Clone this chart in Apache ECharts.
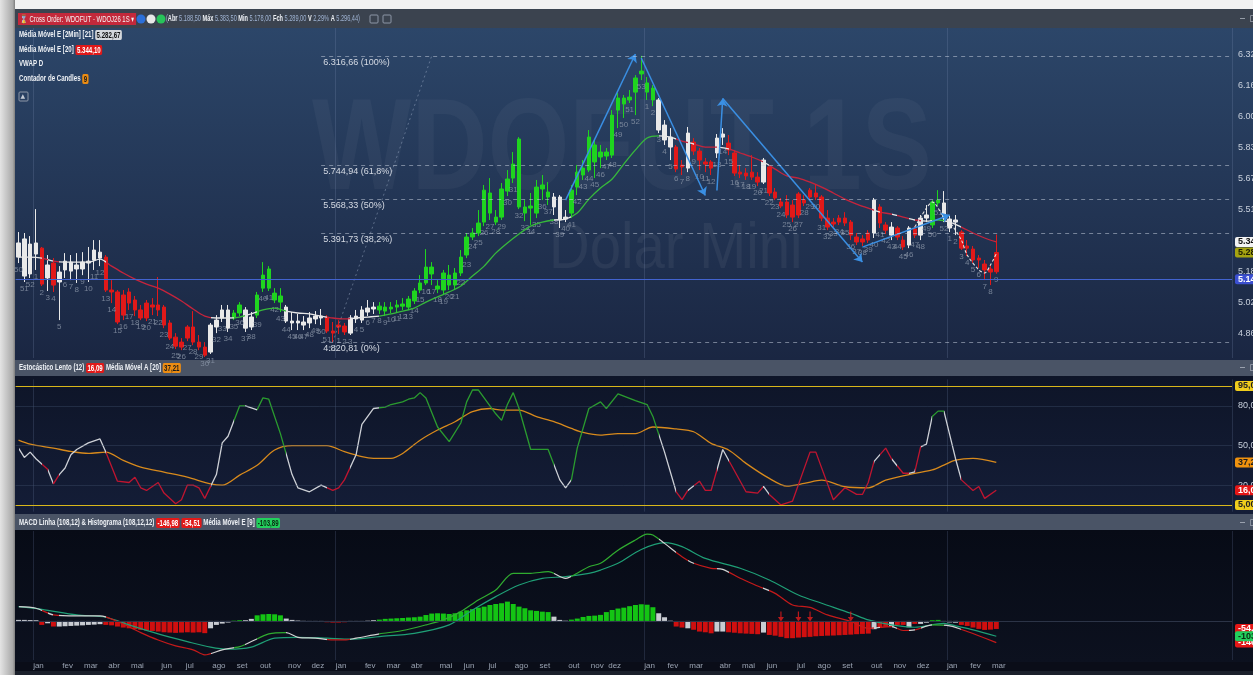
<!DOCTYPE html>
<html>
<head>
<meta charset="utf-8">
<script src="https://cdn.jsdelivr.net/npm/echarts@6/dist/echarts.min.js"></script>
<style>
html, body { margin: 0; padding: 0; background: #eeeeee; }
#chart { width: 1253px; height: 675px; }
</style>
</head>
<body>
<div id="chart"></div>
<script>
// ---- data (weekly candles, WDOFUT) ----
var firstWeeks = [50, 51, 52];
var weeksPerYear = [52, 53, 52, 9];
var monthNames = ['jan','fev','mar','abr','mai','jun','jul','ago','set','out','nov','dez',
                  'jan','fev','mar','abr','mai','jun','jul','ago','set','out','nov','dez',
                  'jan','fev','mar','abr','mai','jun','jul','ago','set','out','nov','dez',
                  'jan','fev','mar'];
var monthStarts = [3, 8, 12, 16, 20, 25, 29, 34, 38, 42, 47, 51,
                   55, 60, 64, 68, 73, 77, 81, 86, 90, 95, 99, 102,
                   108, 112, 116, 121, 125, 129, 134, 138, 142, 147, 151, 155,
                   160, 164, 168];

// trend state per candle: G = alta, R = baixa, W = neutro
var trend = 'WWWWRWRWWW' + 'WWWWWRRRRR' + 'RRRRRRRRRR' + 'RRRWWWWGGW' + 'WGGGGGWWWW' +
            'WWWRRRRWWW' + 'WWGGGGGGGG' + 'GGGGGGGGGG' + 'GGGGGGGGGG' + 'GGWWWGGGGG' +
            'GGGGGGGGGG' + 'WWWRRWRRRR' + 'WWRRRRRRWR' + 'RRRRRRRRRR' + 'RRRRRRRWRR' +
            'WRRWRWWGGW' + 'WWRRRRRRR';

// [open, close, low, high]
var weeklyOhlc = [
  [5265,5339,5234,5396],[5166,5360,5135,5391],[5177,5333,5156,5375],[5281,5339,5198,5516],[5312,5124,5114,5318],
  [5156,5224,5088,5276],[5234,5119,5083,5260],[5135,5187,4936,5218],[5198,5244,5156,5286],[5192,5239,5145,5276],
  [5203,5224,5130,5286],[5203,5239,5171,5291],[5234,5244,5135,5318],[5250,5302,5198,5354],[5260,5291,5218,5354],
  [5265,5093,5083,5276],[5093,5083,5025,5145],[5083,4926,4915,5093],[5067,4962,4936,5093],[5083,5025,4989,5103],
  [5041,4989,4957,5062],[4989,4947,4936,5015],[5025,4947,4931,5041],[5015,5004,4962,5051],[5015,4989,4957,5161],
  [5004,4910,4894,5015],[4921,4842,4832,4936],[4847,4800,4785,4868],[4821,4795,4779,4842],[4900,4842,4826,4910],
  [4900,4821,4805,4983],[4821,4795,4779,4858],[4795,4753,4743,4821],[4769,4910,4759,4921],[4900,4936,4868,4962],
  [4947,4989,4926,5015],[4894,4989,4874,5015],[4947,4973,4936,4989],[4973,5015,4957,5030],[4894,4989,4874,5004],
  [4900,4952,4884,4978],[4962,5067,4947,5083],[5103,5171,5083,5239],[5103,5203,5088,5218],[5041,5077,5025,5103],
  [5030,5062,4978,5103],[4931,5004,4921,5015],[4921,4931,4884,4978],[4921,4931,4884,4968],[4910,4926,4884,4957],
  [4921,4947,4894,4978],[4942,4957,4915,4983],[4947,4957,4910,4994],[4952,4879,4868,4962],[4879,4868,4821,4926],
  [4910,4900,4863,4936],[4905,4874,4858,4921],[4868,4947,4858,4962],[4942,4957,4921,4989],[4936,4989,4921,5009],
  [4978,4999,4957,5041],[4994,5004,4968,5030],[4989,5009,4968,5030],[4983,5004,4957,5030],[4994,5004,4973,5030],
  [5004,5015,4978,5041],[5009,5020,4989,5051],[5004,5046,4989,5062],[5036,5088,5020,5103],[5093,5130,5077,5171],
  [5130,5213,5119,5307],[5177,5213,5119,5239],[5098,5114,5077,5145],[5093,5182,5067,5198],[5119,5171,5093,5224],
  [5119,5182,5093,5208],[5182,5265,5166,5302],[5276,5370,5260,5391],[5370,5391,5354,5417],[5391,5443,5375,5511],
  [5448,5615,5427,5642],[5495,5600,5459,5678],[5448,5474,5433,5511],[5474,5621,5459,5652],[5610,5673,5584,5720],
  [5678,5751,5652,5814],[5527,5882,5516,5892],[5495,5527,5453,5563],[5521,5532,5433,5600],[5495,5631,5469,5668],
  [5621,5642,5563,5694],[5579,5605,5537,5657],[5527,5579,5485,5600],[5459,5579,5417,5589],[5464,5474,5448,5511],
  [5495,5615,5469,5642],[5631,5709,5589,5746],[5694,5730,5668,5772],[5720,5892,5709,5929],[5762,5851,5678,5877],
  [5788,5814,5730,5851],[5793,5814,5772,5835],[5798,6007,5783,6033],[6033,6096,5939,6122],[6065,6096,5992,6112],
  [6086,6101,6070,6138],[6127,6201,6007,6216],[6222,6237,6190,6316.66],[6127,6175,6086,6206],[6086,6148,6054,6164],
  [5929,6086,5913,6096],[5877,5955,5851,5981],[5840,5892,5772,5939],[5840,5725,5709,5851],[5746,5736,5694,5772],
  [5730,5913,5709,5945],[5866,5819,5798,5887],[5819,5772,5720,5835],[5762,5751,5709,5783],[5762,5730,5694,5772],
  [5809,5887,5783,5908],[5892,5908,5851,5939],[5861,5825,5798,5903],[5809,5704,5689,5825],[5709,5699,5678,5746],
  [5704,5689,5668,5730],[5709,5683,5668,5798],[5683,5657,5636,5709],[5657,5772,5647,5783],[5736,5600,5584,5746],
  [5605,5574,5563,5626],[5553,5532,5521,5574],[5553,5485,5469,5589],[5537,5474,5448,5563],[5595,5485,5469,5605],
  [5563,5548,5532,5589],[5615,5579,5563,5626],[5600,5579,5563,5642],[5579,5469,5453,5589],[5469,5422,5406,5511],
  [5448,5438,5422,5469],[5469,5448,5433,5485],[5469,5443,5427,5500],[5448,5380,5354,5459],[5370,5344,5328,5391],
  [5360,5344,5323,5380],[5391,5354,5339,5406],[5391,5563,5365,5574],[5527,5443,5417,5542],[5433,5406,5386,5448],
  [5380,5422,5354,5448],[5417,5370,5354,5427],[5354,5318,5302,5375],[5328,5417,5312,5427],[5412,5380,5365,5427],
  [5380,5469,5354,5485],[5469,5485,5448,5537],[5433,5553,5417,5563],[5548,5563,5532,5615],[5469,5548,5448,5610],
  [5417,5464,5396,5480],[5448,5459,5380,5485],[5396,5312,5302,5406],[5323,5312,5271,5354],[5307,5250,5234,5323],
  [5260,5250,5208,5276],[5229,5198,5145,5250],[5203,5187,5119,5224],[5188.5,5289,5178,5383.5]
];

// Média Móvel E [20] — [candle, price]
var ema20 = [
  [0,5265],[2,5265],[4,5260],[6,5244],[8,5239],[10,5239],[12,5239],[14,5255],[16,5218],[18,5182],
  [20,5150],[22,5124],[24,5103],[26,5072],[28,5036],[30,4994],[32,4957],[34,4947],[36,4947],[38,4952],
  [40,4968],[42,4989],[44,4999],[46,4983],[48,4973],[50,4968],[52,4957],[54,4947],[56,4942],[58,4947],
  [60,4952],[62,4957],[64,4968],[66,4983],[68,4999],[70,5030],[72,5057],[74,5083],[76,5114],[78,5166],
  [80,5218],[82,5286],[84,5339],[86,5386],[88,5427],[90,5448],[92,5459],[94,5464],[96,5495],[98,5568],
  [100,5626],[102,5673],[104,5751],[106,5825],[108,5887],[110,5898],[112,5892],[114,5871],[116,5856],[118,5840],
  [120,5840],[122,5830],[124,5809],[126,5788],[128,5762],[130,5725],[132,5689],[134,5678],[136,5657],[138,5631],
  [140,5600],[142,5568],[144,5542],[146,5521],[148,5500],[150,5490],[152,5474],[154,5459],[156,5453],[158,5459],
  [160,5448],[162,5422],[164,5391],[166,5365],[168,5344.10]
];
// Média Móvel E [2Min] [21]
var ema2min = [[154,5422],[156,5521],[157,5553],[159,5474],[160,5448],[162,5354],[163,5276],[165,5198],[166,5182],[167,5224],[168,5282.67]];
var vwapD = 5149;
var closeVariation = '2,29%';
var averagePrice = 5296.44;

var fibLevels = [
  {value: 6316.66, text: '6.316,66 (100%)'},
  {value: 5744.94, text: '5.744,94 (61,8%)'},
  {value: 5568.33, text: '5.568,33 (50%)'},
  {value: 5391.73, text: '5.391,73 (38,2%)'},
  {value: 4820.81, text: '4.820,81 (0%)'}
];
var fibStart = 52;
var fibAnchor = [[54, 4820.81], [71, 6316.66]];
var arrows = [
  [[94, 5563], [106, 6326]],
  [[107, 6305], [118, 5587]],
  [[120, 5613], [121, 6094]],
  [[121, 6094], [145, 5239]],
  [[145, 5317], [160, 5485]]
];
var priceTicks = [4865, 5027, 5189, 5353, 5515, 5677, 5839, 6002, 6164, 6326];

// Estocástico Lento (12) and Média Móvel A [20]
var stochK = [
  [0,48],[1,41],[2,45],[3,40],[5,32],[6,21],[7,28],[8,33],[9,43],[10,47],[12,52],[14,55],[15,45],[17,23],[19,22],
  [20,26],[21,18],[22,16],[24,22],[25,14],[27,6],[28,9],[29,20],[30,20],[31,18],[32,10],[34,28],[35,52],[36,57],
  [38,80],[39,80],[41,77],[42,86],[43,85],[45,59],[47,28],[48,18],[50,15],[52,20],[54,16],[55,18],[56,24],[58,43],
  [59,66],[61,78],[63,79],[64,81],[66,83],[67,85],[68,86],[69,90],[70,86],[72,64],[74,53],[76,67],[77,83],[78,92],
  [79,92],[80,86],[82,74],[83,69],[84,81],[85,90],[86,78],[88,47],[91,47],[93,24],[94,18],[95,24],[96,48],[98,78],
  [100,83],[101,78],[103,89],[106,84],[108,81],[109,72],[111,45],[113,15],[114,9],[115,16],[117,23],[118,16],[119,16],
  [121,47],[125,15],[127,14],[128,19],[129,13],[131,5],[133,8],[136,45],[137,45],[140,9],[142,18],[144,13],[145,13],
  [146,22],[147,38],[149,48],[150,40],[152,29],[153,29],[154,30],[155,49],[156,51],[157,72],[158,76],[159,76],
  [161,40],[162,24],[164,16],[165,19],[166,10],[168,16.09]
];
var stochMA = [
  [0,54],[2,51],[6,48],[9,45.5],[12,44],[15,45],[18,38.7],[21,33.6],[25,29.8],[29,26],[33,21],[35,20],[38,27.6],
  [41,35],[44,46.6],[47,49.9],[50,49.9],[53,49.9],[56,45.3],[59,41.5],[61,40.3],[64,40.3],[66,44],[69,54],[72,61.7],
  [75,68],[78,75.6],[81,78],[83,76.8],[86,76.8],[89,71.8],[92,68],[95,62.9],[97,59.9],[100,57.9],[103,59],[106,59],
  [109,64],[113,62.5],[116,60.4],[119,51.6],[122,46.6],[125,36.5],[129,25.1],[132,19.3],[135,21.3],[138,23.8],
  [142,18.8],[146,18],[149,23.8],[154,28.9],[157,31.5],[159,35.2],[161,39],[164,40.3],[168,37.21]
];
var stochBands = [95, 5];
var stochGrid = [20, 50, 80];

// MACD Linha (108,12), Histograma (108,12,12), Média Móvel E [9]
var macdLine = [
  [0,97],[3,86],[6,41],[10,34],[14,34],[17,-4],[21,-79],[24,-129],[27,-169],[30,-196],[32,-230],[35,-196],[38,-174],
  [40,-140],[43,-88],[46,-79],[48,-111],[51,-117],[54,-129],[56,-129],[58,-117],[62,-88],[66,-65],[70,-27],[73,7],
  [76,63],[79,142],[82,210],[85,323],[88,323],[91,334],[94,289],[96,323],[98,368],[100,391],[103,480],[106,549],
  [108,589],[109,583],[111,526],[114,436],[116,391],[119,357],[121,350],[124,289],[127,237],[130,187],[133,108],
  [136,92],[139,41],[143,-4],[146,-50],[150,-38],[152,-65],[154,-61],[157,-27],[160,-34],[163,-72],[168,-146.98]
];
var macdSignal = [
  [0,97],[4,79],[10,41],[15,25],[19,-27],[24,-88],[29,-140],[33,-178],[36,-192],[40,-178],[44,-117],[48,-111],
  [53,-117],[57,-124],[62,-106],[68,-84],[74,-27],[78,74],[82,165],[86,244],[90,289],[94,300],[98,323],[100,345],
  [103,391],[107,485],[111,531],[114,504],[118,424],[124,357],[129,278],[134,176],[138,120],[143,52],[146,7],
  [150,-27],[154,-43],[159,-16],[161,-34],[164,-61],[168,-103.89]
];
var macdHist = [
  7, 7, 6, 5, -27, -16, -38, -38, -36, -34,
  -32, -30, -27, -25, -22, -27, -30, -38, -45, -50,
  -56, -61, -65, -68, -72, -77, -79, -81, -79, -77,
  -79, -77, -83, -50, -27, -18, -11, 2, 5, 5,
  14, 38, 45, 47, 45, 38, 16, 7, 3, 1,
  -1, -2, -3, -9, -11, -11, -9, -5, -3, -2,
  2, 5, 9, 14, 16, 18, 20, 23, 25, 29,
  40, 50, 52, 50, 47, 52, 63, 72, 80, 90,
  97, 108, 115, 120, 131, 115, 97, 86, 72, 68,
  63, 60, 29, 7, 2, 9, 16, 27, 34, 36,
  41, 60, 74, 84, 90, 100, 108, 113, 110, 93,
  52, 25, 2, -38, -45, -50, -60, -72, -77, -84,
  -72, -72, -77, -80, -84, -86, -88, -90, -79, -95,
  -100, -108, -117, -117, -113, -110, -108, -104, -102, -100,
  -99, -97, -95, -93, -90, -88, -86, -56, -45, -40,
  -38, -27, -27, -43, -20, -20, -12, 5, 7, -5,
  -10, -12, -27, -34, -45, -54, -61, -59, -54.51
];
var sellSignals = [131, 134, 136, 143];

// ---- helpers ----
var NARROW = "'Liberation Sans Narrow','Liberation Sans','DejaVu Sans Condensed',Arial,sans-serif";
var SLOTS = 209;
var categories = [];
for (var i = 0; i < SLOTS; i++) categories.push(String(i));

var weekNo = firstWeeks.slice();
weeksPerYear.forEach(function (n) { for (var w = 1; w <= n; w++) weekNo.push(w); });
var yearStarts = [];
weekNo.forEach(function (w, i) { if (w === 1) yearStarts.push(i); });

var palette = {
  candle: {G: '#1fd41f', R: '#e11919', W: '#e9e9e9'},
  ema:    {G: '#36b93b', R: '#c6233b', W: '#e6e6e6'},
  stoch:  {G: '#2a9c2e', R: '#c0142f', W: '#cdd0d6'},
  macd:   {G: '#2fac2f', R: '#c51919', W: '#d2d2d2'},
  hist:   {G: '#14c414', R: '#d00f0f', W: '#c9ccd2'}
};

function trendPieces(map) {
  var pieces = [], start = 0;
  for (var i = 1; i <= trend.length; i++) {
    if (i === trend.length || trend[i] !== trend[start]) {
      pieces.push({gte: start - 0.5, lt: i - 0.5, color: map[trend[start]]});
      start = i;
    }
  }
  return pieces;
}

function fmtBR(v, dec) {
  var s = Math.abs(v).toFixed(dec).split('.');
  var whole = s[0].replace(/\B(?=(\d{3})+(?!\d))/g, '.');
  return (v < 0 ? '-' : '') + whole + (dec ? ',' + s[1] : '');
}

function flag(value, bg, fg, showLine, lineColor) {
  return {
    yAxis: value,
    lineStyle: showLine ? {color: lineColor, type: 'solid', width: 1.2} : {color: 'rgba(0,0,0,0)', width: 0},
    label: {
      show: true, position: 'end', distance: 3, formatter: fmtBR(value, 2),
      backgroundColor: bg, color: fg, padding: [1, 3, 0, 3], borderRadius: 2,
      fontSize: 9, fontFamily: NARROW, fontWeight: 'bold'
    }
  };
}

function xAx(gridIndex, showLabels, splitColor) {
  return {
    type: 'category', gridIndex: gridIndex, data: categories, boundaryGap: true,
    axisLine: {show: false}, axisTick: {show: false},
    axisLabel: showLabels ? {
      show: true,
      interval: function (i) { return monthStarts.indexOf(i) >= 0; },
      formatter: function (v) { var k = monthStarts.indexOf(+v); return k >= 0 ? monthNames[k] : ''; },
      color: '#9aa3b2', fontSize: 8, fontFamily: NARROW, margin: 2, padding: [0, 0, 0, 5]
    } : {show: false},
    splitLine: {
      show: true,
      interval: function (i) { return yearStarts.indexOf(i) >= 0; },
      lineStyle: {color: splitColor, width: 1}
    }
  };
}

var lastBar = weeklyOhlc[weeklyOhlc.length - 1];
var lastEma = ema20[ema20.length - 1][1];
var lastEma2 = ema2min[ema2min.length - 1][1];
var lastK = stochK[stochK.length - 1][1];
var lastMA = stochMA[stochMA.length - 1][1];
var lastMacd = macdLine[macdLine.length - 1][1];
var lastSignal = macdSignal[macdSignal.length - 1][1];
var lastHist = macdHist[macdHist.length - 1];

// ---- panel backgrounds and header texts ----
function grad(c1, c2) {
  return new echarts.graphic.LinearGradient(0, 0, 0, 1, [{offset: 0, color: c1}, {offset: 1, color: c2}]);
}
function bg(x, y, w, h, fill) {
  return {type: 'rect', z: -100, silent: true, shape: {x: x, y: y, width: w, height: h}, style: {fill: fill}};
}
var FS = 8.5;
var baseRich = {
  t: {fill: '#eef1f5', fontSize: FS, fontFamily: NARROW, fontWeight: 'bold'},
  v: {fill: '#9fb3d3', fontSize: FS, fontFamily: NARROW},
  r: {fill: '#ffffff', backgroundColor: '#e11919', padding: [1, 2, 0, 2], borderRadius: 2, fontSize: FS, fontFamily: NARROW, fontWeight: 'bold'},
  o: {fill: '#1a1a1a', backgroundColor: '#ec8c12', padding: [1, 2, 0, 2], borderRadius: 2, fontSize: FS, fontFamily: NARROW, fontWeight: 'bold'},
  g: {fill: '#111111', backgroundColor: '#d4d7dc', padding: [1, 2, 0, 2], borderRadius: 2, fontSize: FS, fontFamily: NARROW, fontWeight: 'bold'},
  gr: {fill: '#0b2a12', backgroundColor: '#22cf5c', padding: [1, 2, 0, 2], borderRadius: 2, fontSize: FS, fontFamily: NARROW, fontWeight: 'bold'},
  box: {fill: '#f3f3f3', backgroundColor: '#c3293b', padding: [2, 3, 1, 3], fontSize: FS, fontFamily: NARROW}
};
function txt(x, y, text, sx) {
  return {
    type: 'text', x: x, y: y, z: 100, silent: true, scaleX: sx || 0.72,
    style: {text: text, verticalAlign: 'middle', align: 'left', fill: '#eef1f5', fontSize: FS, fontFamily: NARROW, fontWeight: 'bold', rich: baseRich}
  };
}
function icon(x, y, text) {
  return {type: 'text', x: x, y: y, z: 100, silent: true,
          style: {text: text, verticalAlign: 'middle', fill: '#c4cad4', fontSize: 9, fontFamily: NARROW}};
}

var graphics = [
  bg(0, 0, 1253, 675, '#0a0d17'),
  bg(0, 0, 1253, 9, '#f1f1f1'),
  {type: 'rect', z: -100, silent: true, shape: {x: 0, y: 0, width: 15, height: 675},
   style: {fill: new echarts.graphic.LinearGradient(0, 0, 1, 0, [{offset: 0, color: '#e4e4e4'}, {offset: 0.85, color: '#a9a9a9'}, {offset: 1, color: '#7d7d7d'}])}},
  bg(15, 9, 1238, 19, '#3b434f'),
  bg(15, 28, 1238, 332, grad('#2c4669', '#1a2642')),
  bg(15, 360, 1238, 16, '#4a5466'),
  bg(15, 376, 1238, 138, grad('#0e1528', '#141d37')),
  bg(15, 514, 1238, 16, '#4a5466'),
  bg(15, 530, 1238, 132, grad('#070b16', '#0c111f')),
  bg(15, 662, 1238, 13, '#0a0d18'),
  bg(15, 671, 1238, 4, '#1b202b'),
  // watermark
  {type: 'text', x: 312, y: 88, z: -50, silent: true, scaleX: 0.81,
   style: {text: 'WDOFUT 1S', fill: 'rgba(255,255,255,0.04)', fontSize: 130, fontWeight: 'bold', fontFamily: NARROW, verticalAlign: 'top'}},
  {type: 'text', x: 549, y: 218, z: -50, silent: true, scaleX: 0.88,
   style: {text: 'Dolar Mini', fill: 'rgba(255,255,255,0.055)', fontSize: 64, fontFamily: NARROW, verticalAlign: 'top'}},
  // top bar
  txt(18, 19, '{box|⌛ Cross Order: WDOFUT - WDOJ26 1S ▾}', 0.7),
  {type: 'circle', z: 100, silent: true, shape: {cx: 141, cy: 19, r: 4.5}, style: {fill: '#2c6fd8'}},
  {type: 'circle', z: 100, silent: true, shape: {cx: 151, cy: 19, r: 4.5}, style: {fill: '#e8e8e8'}},
  {type: 'circle', z: 100, silent: true, shape: {cx: 161, cy: 19, r: 4.5}, style: {fill: '#27c45a'}},
  txt(166, 19, '{v|(}{t|Abr} {v|' + fmtBR(lastBar[0], 2) + '} {t|Máx} {v|' + fmtBR(lastBar[3], 2) + '} {t|Min} {v|' +
      fmtBR(lastBar[2], 2) + '} {t|Fch} {v|' + fmtBR(lastBar[1], 2) + '} {t|V} {v|' + closeVariation + '} {t|A} {v|' +
      fmtBR(averagePrice, 2) + ')}', 0.66),
  {type: 'rect', z: 100, silent: true, shape: {x: 370, y: 15, width: 8, height: 8, r: 1}, style: {fill: 'none', stroke: '#8d97a7'}},
  {type: 'rect', z: 100, silent: true, shape: {x: 383, y: 15, width: 8, height: 8, r: 1}, style: {fill: 'none', stroke: '#8d97a7'}},
  icon(1240, 19, '–  ▯'),
  // indicator legends
  txt(19, 35, '{t|Média Móvel E [2Min] [21]} {g|' + fmtBR(lastEma2, 2) + '}'),
  txt(19, 50, '{t|Média Móvel E [20]} {r|' + fmtBR(lastEma, 2) + '}'),
  txt(19, 64, '{t|VWAP D}'),
  txt(19, 79, '{t|Contador de Candles} {o|' + weekNo[weekNo.length - 1] + '}'),
  {type: 'rect', z: 100, silent: true, shape: {x: 19, y: 92, width: 9, height: 9, r: 1}, style: {fill: 'none', stroke: '#8d97a7'}},
  {type: 'text', x: 20.5, y: 96.5, z: 100, silent: true, style: {text: '▲', verticalAlign: 'middle', fill: '#c4cad4', fontSize: 6, fontFamily: 'DejaVu Sans'}},
  // sub-panel headers
  txt(19, 368, '{t|Estocástico Lento (12)} {r|' + fmtBR(lastK, 2) + '} {t|Média Móvel A [20]} {o|' + fmtBR(lastMA, 2) + '}'),
  icon(1240, 368, '–  ▯'),
  txt(19, 523, '{t|MACD Linha (108,12) & Histograma (108,12,12)} {r|' + fmtBR(lastMacd, 2) + '} {r|' + fmtBR(lastHist, 2) +
      '} {t|Média Móvel E [9]} {gr|' + fmtBR(lastSignal, 2) + '}'),
  icon(1240, 523, '–  ▯')
];

// ---- chart ----
var chart = echarts.init(document.getElementById('chart'));

var candleData = weeklyOhlc.map(function (d, i) {
  var c = palette.candle[trend[i]];
  return {value: d, itemStyle: {color: c, color0: c, borderColor: c, borderColor0: c, borderColorDoji: c}};
});
var histData = macdHist.map(function (v, i) {
  return {value: v, itemStyle: {color: palette.hist[trend[i]]}};
});

var fibMarks = fibLevels.map(function (f) {
  return [
    {coord: [fibStart, f.value],
     lineStyle: {type: [4, 4], color: 'rgba(205,214,228,0.5)', width: 1},
     label: {show: true, position: 'insideStartBottom', formatter: f.text, color: '#d6dbe4', fontSize: 9, fontFamily: NARROW, distance: 2}},
    {coord: [SLOTS - 1, f.value]}
  ];
});

var gridBase = {left: 15.6, right: 21, outerBoundsMode: 'none', containLabel: false};

var option = {
  animation: false,
  backgroundColor: 'transparent',
  textStyle: {fontFamily: NARROW},
  graphic: graphics,
  visualMap: [
    {show: false, type: 'piecewise', seriesIndex: 1, dimension: 0, pieces: trendPieces(palette.ema)},
    {show: false, type: 'piecewise', seriesIndex: 6, dimension: 0, pieces: trendPieces(palette.stoch)},
    {show: false, type: 'piecewise', seriesIndex: 9, dimension: 0, pieces: trendPieces(palette.macd)}
  ],
  grid: [
    Object.assign({top: 28, height: 330}, gridBase),
    Object.assign({top: 379.4, height: 132.2}, gridBase),
    Object.assign({top: 531, height: 129}, gridBase)
  ],
  xAxis: [
    xAx(0, false, 'rgba(130,150,185,0.22)'),
    xAx(1, false, 'rgba(90,105,140,0.30)'),
    xAx(2, true, 'rgba(90,105,140,0.28)')
  ],
  yAxis: [
    {type: 'value', gridIndex: 0, position: 'right', min: 4738, max: 6462,
     axisLine: {show: false}, axisTick: {show: false}, splitLine: {show: false},
     axisLabel: {customValues: priceTicks, formatter: function (v) { return fmtBR(v, 2); },
                 color: '#c9d1dd', fontSize: 9, fontFamily: NARROW, margin: 6}},
    {type: 'value', gridIndex: 1, position: 'right', min: 0, max: 100,
     axisLine: {show: false}, axisTick: {show: false}, splitLine: {show: false},
     axisLabel: {customValues: stochGrid, formatter: function (v) { return fmtBR(v, 2); },
                 color: '#c9d1dd', fontSize: 9, fontFamily: NARROW, margin: 6}},
    {type: 'value', gridIndex: 2, position: 'right', min: -265, max: 610,
     axisLine: {show: false}, axisTick: {show: false}, splitLine: {show: false}, axisLabel: {show: false}}
  ],
  series: [
    {
      name: 'WDOFUT', type: 'candlestick', xAxisIndex: 0, yAxisIndex: 0, barWidth: 4, data: candleData,
      markLine: {
        silent: true, symbol: ['none', 'none'], animation: false,
        data: fibMarks.concat([
          flag(vwapD, '#3b4fd0', '#ffffff', true, '#4263cf'),
          flag(lastEma, '#f3f3f3', '#111111', false),
          flag(lastBar[1], '#a5a311', '#1b1b00', false)
        ])
      }
    },
    {name: 'Média Móvel E [20]', type: 'line', xAxisIndex: 0, yAxisIndex: 0, data: ema20,
     showSymbol: false, smooth: 0.3, lineStyle: {width: 1.3}, z: 3},
    {name: 'Média Móvel E [2Min] [21]', type: 'line', xAxisIndex: 0, yAxisIndex: 0, data: ema2min,
     showSymbol: false, smooth: 0.3, lineStyle: {width: 1.1, type: [3, 2], color: '#e4e4e4'}, z: 3},
    {name: 'Setas', type: 'lines', coordinateSystem: 'cartesian2d', xAxisIndex: 0, yAxisIndex: 0,
     symbol: ['none', 'arrow'], symbolSize: 8, z: 4,
     lineStyle: {color: '#3a8fe3', width: 1.5, opacity: 1, curveness: 0},
     data: arrows.map(function (a) { return {coords: a}; })},
    {name: 'Fibo', type: 'line', xAxisIndex: 0, yAxisIndex: 0, data: fibAnchor, showSymbol: false,
     lineStyle: {width: 1, type: [2, 3], color: 'rgba(165,180,205,0.45)'}},
    {name: 'Contador de Candles', type: 'scatter', xAxisIndex: 0, yAxisIndex: 0, symbolSize: 1,
     itemStyle: {color: 'rgba(0,0,0,0)'},
     data: weeklyOhlc.map(function (d, i) { return [i, d[2]]; }),
     label: {show: true, position: 'bottom', distance: 2, color: '#8c97a9', fontSize: 8, fontFamily: NARROW,
             formatter: function (p) { return String(weekNo[p.dataIndex]); }}},
    {name: 'Estocástico Lento (12)', type: 'line', xAxisIndex: 1, yAxisIndex: 1, data: stochK,
     showSymbol: false, lineStyle: {width: 1.3}, z: 4,
     markLine: {silent: true, symbol: ['none', 'none'], animation: false,
       data: stochGrid.map(function (v) {
         return {yAxis: v, lineStyle: {color: 'rgba(70,85,115,0.35)', type: 'solid', width: 1}, label: {show: false}};
       }).concat(stochBands.map(function (v) { return flag(v, '#f0cd1c', '#222222', true, '#d9b71a'); }))
         .concat([flag(lastK, '#e41616', '#ffffff', false)])}},
    {name: 'Média Móvel A [20]', type: 'line', xAxisIndex: 1, yAxisIndex: 1, data: stochMA,
     showSymbol: false, smooth: 0.3, lineStyle: {width: 1.3, color: '#d88a1c'}, z: 3,
     markLine: {silent: true, symbol: ['none', 'none'], animation: false, data: [flag(lastMA, '#f0920e', '#1d1d1d', false)]}},
    {name: 'Histograma', type: 'bar', xAxisIndex: 2, yAxisIndex: 2, data: histData, barWidth: 5,
     markLine: {silent: true, symbol: ['none', 'none'], animation: false,
       data: [{yAxis: 0, lineStyle: {color: '#2c3447', type: 'solid', width: 1}, label: {show: false}},
              flag(lastHist, '#e41616', '#ffffff', false)]}},
    {name: 'MACD Linha', type: 'line', xAxisIndex: 2, yAxisIndex: 2, data: macdLine,
     showSymbol: false, smooth: 0.3, lineStyle: {width: 1.2}, z: 4,
     markLine: {silent: true, symbol: ['none', 'none'], animation: false, data: [flag(lastMacd, '#e41616', '#ffffff', false)]}},
    {name: 'Média Móvel E [9]', type: 'line', xAxisIndex: 2, yAxisIndex: 2, data: macdSignal,
     showSymbol: false, smooth: 0.3, lineStyle: {width: 1.2, color: '#1f9f76'}, z: 3,
     markLine: {silent: true, symbol: ['none', 'none'], animation: false, data: [flag(lastSignal, '#22cf5c', '#0b2a12', false)]}},
    {name: 'Sinais', type: 'scatter', xAxisIndex: 2, yAxisIndex: 2,
     symbol: 'path://M4,0 L6,0 L6,7 L10,7 L5,13 L0,7 L4,7 Z', symbolSize: [6, 10],
     itemStyle: {color: '#e31b1b'}, z: 5,
     data: sellSignals.map(function (i) { return [i, 30]; })}
  ]
};

chart.setOption(option);
window.addEventListener('resize', function () { chart.resize(); });
</script>
</body>
</html>
